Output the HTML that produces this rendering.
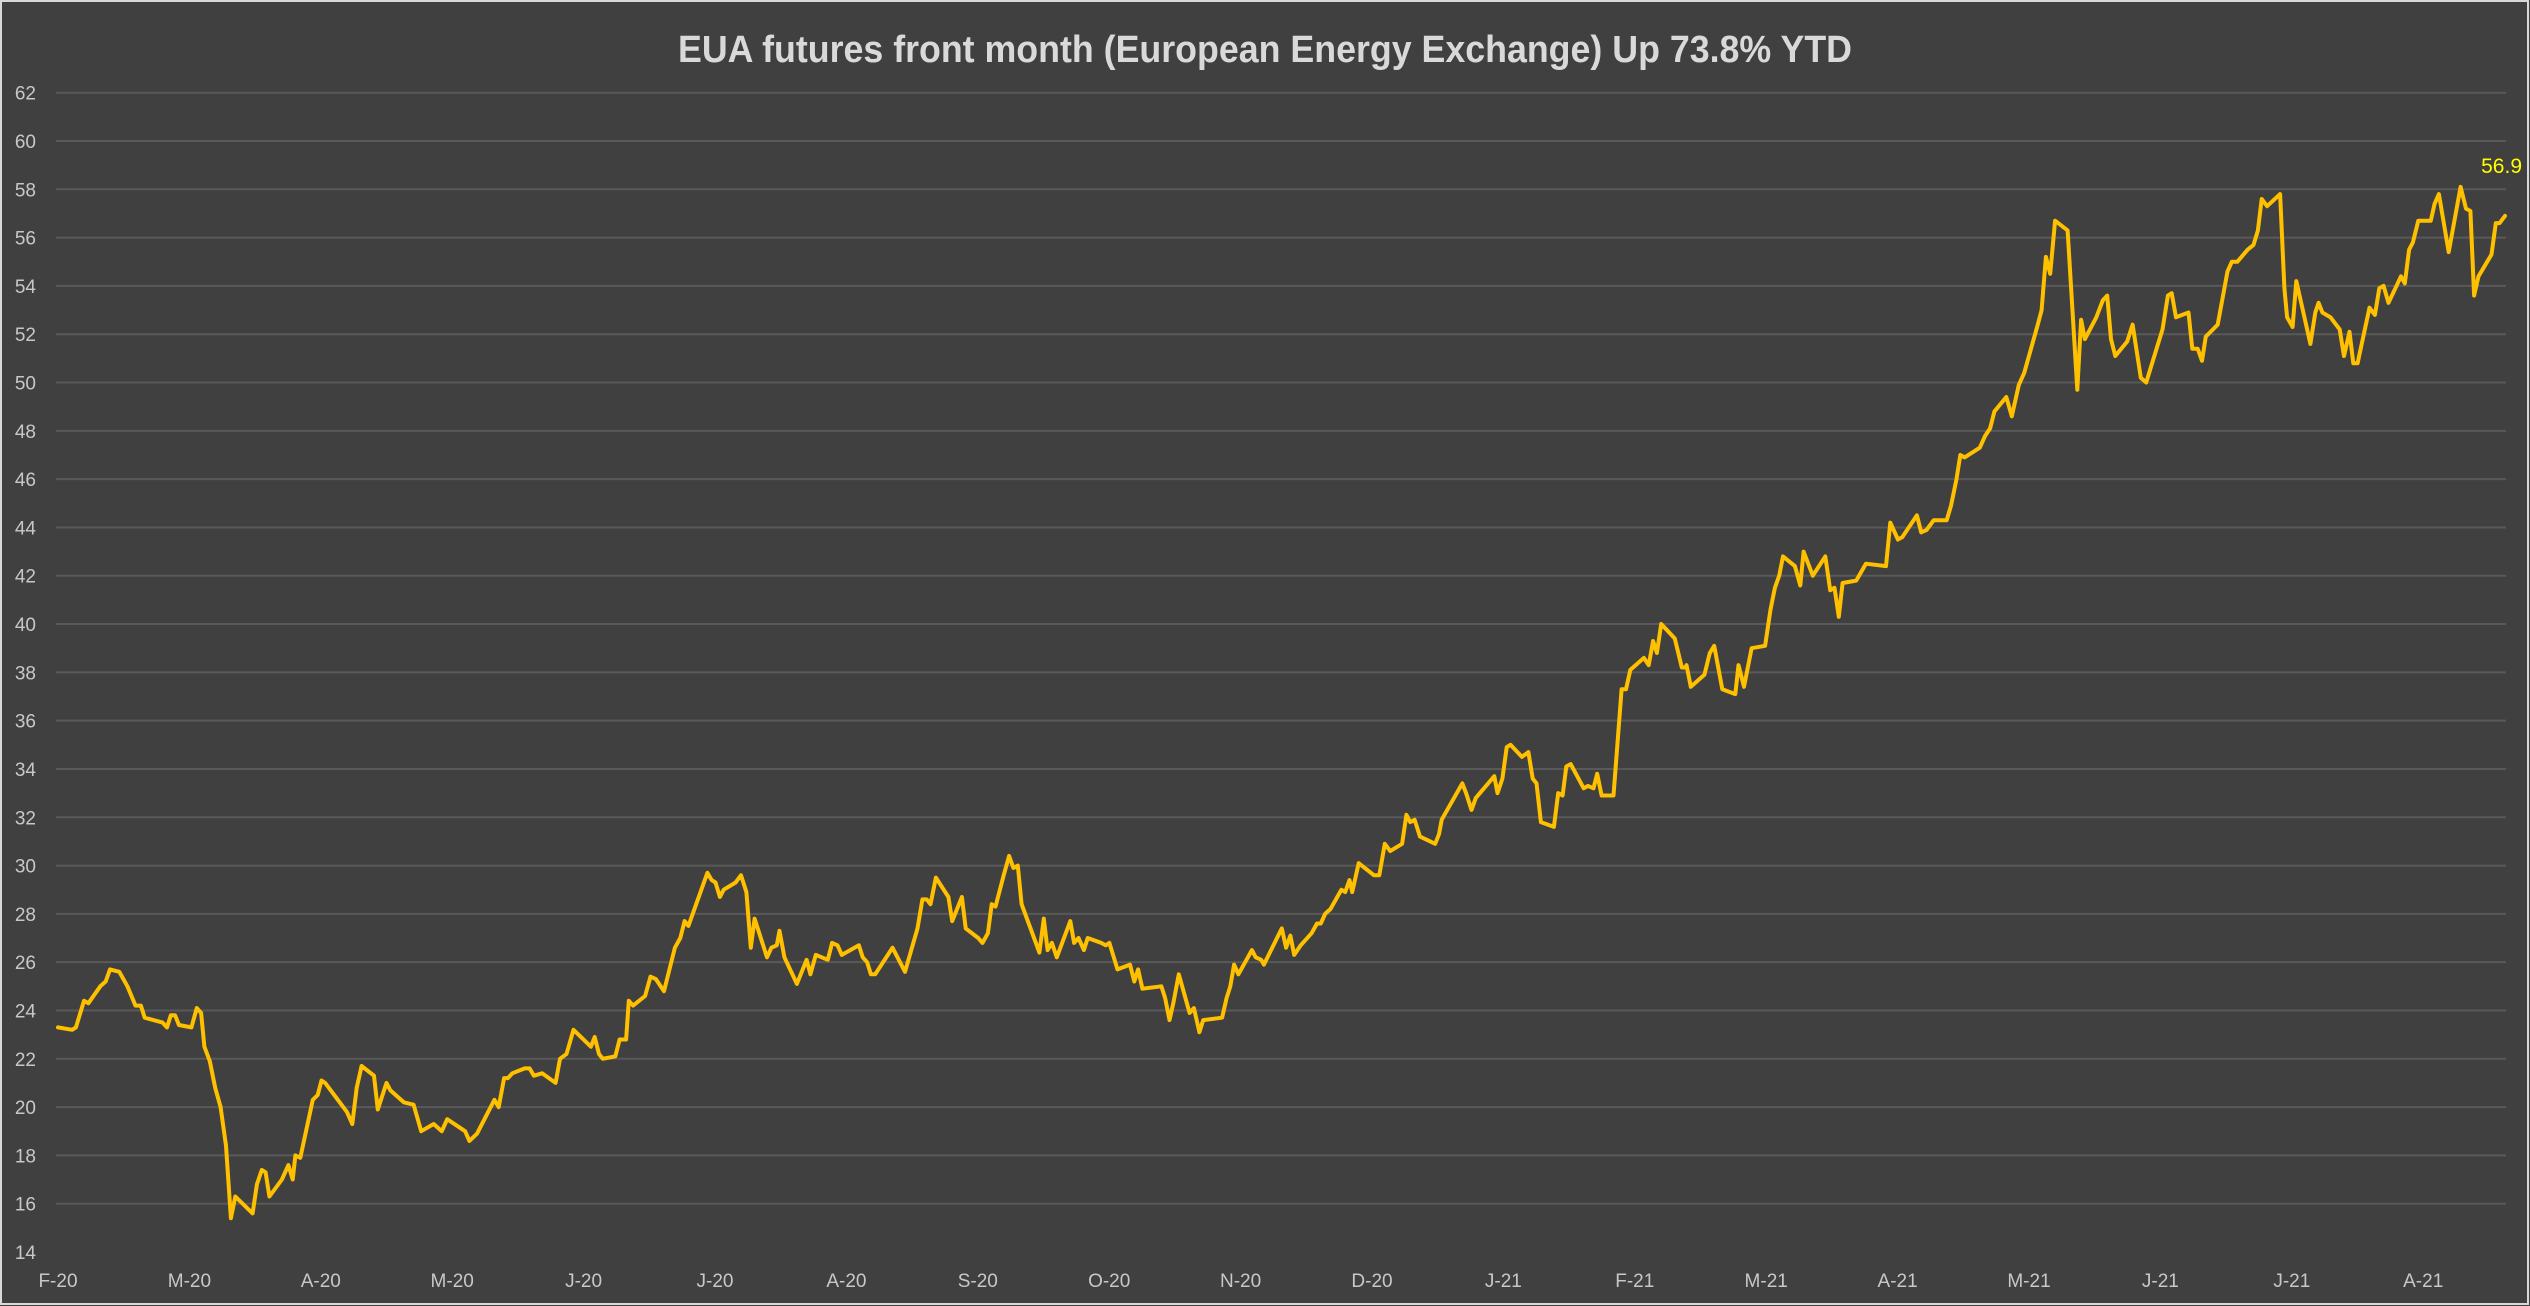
<!DOCTYPE html>
<html><head><meta charset="utf-8">
<style>
html,body{margin:0;padding:0;background:#404040;}
#wrap{position:relative;width:2530px;height:1306px;overflow:hidden;}
svg{display:block;}
</style></head>
<body>
<div id="wrap">
<svg id="chart" width="2530" height="1306" viewBox="0 0 2530 1306" xmlns="http://www.w3.org/2000/svg">
  <rect x="0" y="0" width="2530" height="1306" fill="#404040"/>
  <rect x="1" y="1" width="2527" height="1303" fill="none" stroke="#d9d9d9" stroke-width="2"/>
  <text x="1265" y="62" text-anchor="middle" fill="#d9d9d9" font-family="'Liberation Sans', sans-serif" font-weight="bold" font-size="38" textLength="1174" lengthAdjust="spacingAndGlyphs">EUA futures front month (European Energy Exchange) Up 73.8% YTD</text>
  <g id="grid"></g>
  <g id="yaxis"></g>
  <g id="xaxis"></g>
  <g id="series"></g>
</svg>
</div>
<script>
// ---- data ----
const yTicks = [14,16,18,20,22,24,26,28,30,32,34,36,38,40,42,44,46,48,50,52,54,56,58,60,62];
const monthLabels = ["F-20","M-20","A-20","M-20","J-20","J-20","A-20","S-20","O-20","N-20","D-20","J-21","F-21","M-21","A-21","M-21","J-21","J-21","A-21"];
const seg1X = [107,133,140,155,163,185,195,203,220,235,250,260,267,300,308,315,323,330,353,363,371,377,387,397,407,417,426,434,466,474,483,490,497,520,532,540,545,554,577,586,593,600,640,650,658,667,690,697,713,720,745,763,777,800,815,825,858,866,880,912,920,930,937,945,968,977,985,1000,1025,1033,1045,1058,1090,1097,1105,1112,1135,1143,1155,1160,1168,1190,1200,1210,1225,1245,1255,1263,1270,1305,1313,1320,1328,1335,1357,1367,1377,1385,1392,1415,1423,1433,1438,1447,1470,1488,1495,1505,1527,1535,1545,1553];
const seg1V = [23.3,23.2,23.3,24.4,24.3,25.0,25.2,25.7,25.6,25.0,24.2,24.2,23.7,23.5,23.3,23.8,23.8,23.4,23.3,24.1,23.9,22.5,21.9,20.8,20.0,18.4,15.4,16.3,15.6,16.8,17.4,17.3,16.3,17.0,17.6,17.0,18.0,17.9,20.3,20.5,21.1,21.0,19.8,19.3,20.8,21.7,21.3,19.9,21.0,20.7,20.2,20.1,19.0,19.3,19.0,19.5,19.0,18.6,18.9,20.3,20.0,21.2,21.2,21.4,21.6,21.6,21.3,21.4,21.0,22.0,22.2,23.2,22.5,22.9,22.2,22.0,22.1,22.8,22.8,24.4,24.2,24.6,25.4,25.3,24.8,26.6,27.0,27.7,27.5,29.7,29.4,29.3,28.7,29.0,29.3,29.6,28.9,26.6,27.8,26.2,26.6,26.7,27.3,26.2,25.1,26.1,25.5,26.3,26.1,26.8,26.7,26.3];
const seg2X = [35,42,50,57,65,97,120,143,152,160,167,177,200,207,225,232,255,263,273,280,287,302,312,320,328,335,368,376,383,391,400,425,432,440,450,457,482,490,497,512,535,543,550,558,593,600,608,615,625,645,653,663,670,705,713,720,727,735,760,767,777,782,815,823,831,838,850,870,880,887,895,905,925,932,940,945,957,985,995,1005,1015,1037,1045,1052,1060,1070,1098,1105,1110,1148,1155,1165,1173,1207,1213,1222,1230,1237,1258,1270,1278,1285,1293,1317,1325,1333,1340,1348,1372,1380,1390,1397,1405,1427,1442,1450,1458,1483,1492,1500,1507,1515,1540,1553,1560];
const seg2V = [26.7,26.2,26.0,25.5,25.5,26.6,25.6,27.4,28.6,28.6,28.4,29.5,28.7,27.7,28.7,27.4,27.0,26.8,27.2,28.4,28.3,29.6,30.4,29.9,30.0,28.4,26.4,27.8,26.5,26.8,26.2,27.7,26.8,27.0,26.5,27.0,26.8,26.7,26.8,25.7,25.9,25.2,25.7,24.9,25.0,24.5,23.6,24.3,25.5,23.9,24.1,23.1,23.6,23.7,24.5,25.0,25.9,25.5,26.5,26.2,26.1,25.9,27.4,26.6,27.1,26.3,26.7,27.2,27.6,27.6,28.0,28.2,29.0,28.9,29.4,28.9,30.1,29.6,29.6,30.9,30.6,30.9,32.1,31.8,31.9,31.2,30.9,31.3,31.9,33.4,33.0,32.3,32.8,33.7,33.0,33.6,34.9,35.0,34.5,34.7,33.6,33.4,31.8,31.6,33.0,32.9,34.1,34.2,33.2,33.3,33.2,33.8,32.9,32.9,37.3,37.3,38.1,38.6,38.3,39.3,38.8,40.0,39.4,38.2,38.2];
const seg3X = [12,20,45,55,63,78,102,108,118,132,157,167,175,183,190,212,222,228,245,268,277,285,293,300,325,343,380,388,402,410,437,445,455,468,492,500,510,517,525,553,563,572,580,602,612,625,635,660,667,675,683,692,715,733,740,747,768,780,788,795,803,825,835,850,860,890,900,907,915,938,945,955,963,970,992,1010,1018,1028,1047,1058,1066,1073,1083,1107,1115,1120,1130,1137,1163,1172,1178,1185,1200,1217,1225,1235,1242,1250,1272,1282,1290,1298,1307,1330,1337,1345,1352,1362,1385,1392,1400,1418,1440,1450,1458,1465,1473,1497,1505,1512,1522];
const seg3V = [38.3,37.4,37.9,38.8,39.1,37.3,37.1,38.3,37.4,39.0,39.1,40.6,41.5,42.0,42.8,42.4,41.6,43.0,42.0,42.8,41.4,41.5,40.3,41.7,41.8,42.5,42.4,44.2,43.5,43.6,44.5,43.8,43.9,44.3,44.3,44.9,46.0,47.0,46.9,47.3,47.8,48.1,48.8,49.4,48.6,49.9,50.4,52.4,53.0,55.2,54.5,56.7,56.3,49.7,52.6,51.8,52.7,53.4,53.6,51.8,51.1,51.7,52.4,50.2,50.0,52.2,53.6,53.7,52.7,52.9,51.4,51.4,50.9,51.9,52.4,54.6,55.0,55.0,55.5,55.7,56.3,57.6,57.3,57.8,53.9,52.7,52.3,54.2,51.6,52.9,53.3,52.9,52.7,52.2,51.1,52.1,50.8,50.8,53.1,52.8,53.9,54.0,53.3,54.4,54.1,55.5,55.8,56.7,56.7,57.4,57.8,55.4,58.1,57.2,57.1,53.6,54.4,55.3,56.6,56.6,56.9];
const lastLabel = "56.9";

// ---- scales ----
const NS = "http://www.w3.org/2000/svg";
const plotL = 56, plotR = 2506;
const yMin = 14, yMax = 62, yTop = 92.7, yBot = 1252;
function yScale(v){ return yBot - (v - yMin) / (yMax - yMin) * (yBot - yTop); }
function xScale(t){ return 58 + t * 131.4; }

const times = [], prices = [];
seg1X.forEach((z,i)=>{ times.push((z-107)/242.4); prices.push(seg1V[i]); });
seg2X.forEach((z,i)=>{ times.push(5.951 + z/242.4); prices.push(seg2V[i]); });
seg3X.forEach((z,i)=>{ times.push(12.344 + z/242.4); prices.push(seg3V[i]); });

const grid = document.getElementById('grid');
const yaxis = document.getElementById('yaxis');
const xaxis = document.getElementById('xaxis');
const series = document.getElementById('series');

yTicks.forEach(v=>{
  const y = yScale(v);
  if (v > yMin) {
    const l = document.createElementNS(NS,'line');
    l.setAttribute('x1',plotL); l.setAttribute('x2',plotR);
    l.setAttribute('y1',y); l.setAttribute('y2',y);
    l.setAttribute('stroke','#595959'); l.setAttribute('stroke-width','2');
    
    
    grid.appendChild(l);
  }
  const t = document.createElementNS(NS,'text');
  t.setAttribute('x',36); t.setAttribute('y',y+7);
  t.setAttribute('text-anchor','end');
  t.setAttribute('fill','#c8c8c8');
  t.setAttribute('font-family',"'Liberation Sans', sans-serif");
  t.setAttribute('font-size','19');
  t.textContent = v;
  
  
  yaxis.appendChild(t);
});

monthLabels.forEach((m,i)=>{
  const t = document.createElementNS(NS,'text');
  t.setAttribute('x',xScale(i)); t.setAttribute('y',1287);
  t.setAttribute('text-anchor','middle');
  t.setAttribute('fill','#c8c8c8');
  t.setAttribute('font-family',"'Liberation Sans', sans-serif");
  t.setAttribute('font-size','19');
  t.textContent = m;
  
  
  xaxis.appendChild(t);
});

const pts = times.map((t,i)=> xScale(t).toFixed(1) + ',' + yScale(prices[i]).toFixed(1)).join(' ');
const pl = document.createElementNS(NS,'polyline');
pl.setAttribute('points', pts);
pl.setAttribute('fill','none');
pl.setAttribute('stroke','#ffc000');
pl.setAttribute('stroke-width','4');
pl.setAttribute('stroke-linejoin','round');
pl.setAttribute('stroke-linecap','round');


series.appendChild(pl);

const lastT = times[times.length-1], lastV = prices[prices.length-1];
const lbl = document.createElementNS(NS,'text');
lbl.setAttribute('x', 2522);
lbl.setAttribute('y', yScale(lastV) - 43);
lbl.setAttribute('text-anchor','end');
lbl.setAttribute('fill','#ffff00');
lbl.setAttribute('font-family',"'Liberation Sans', sans-serif");
lbl.setAttribute('font-size','21');
lbl.textContent = lastLabel;


series.appendChild(lbl);
</script>
</body></html>
